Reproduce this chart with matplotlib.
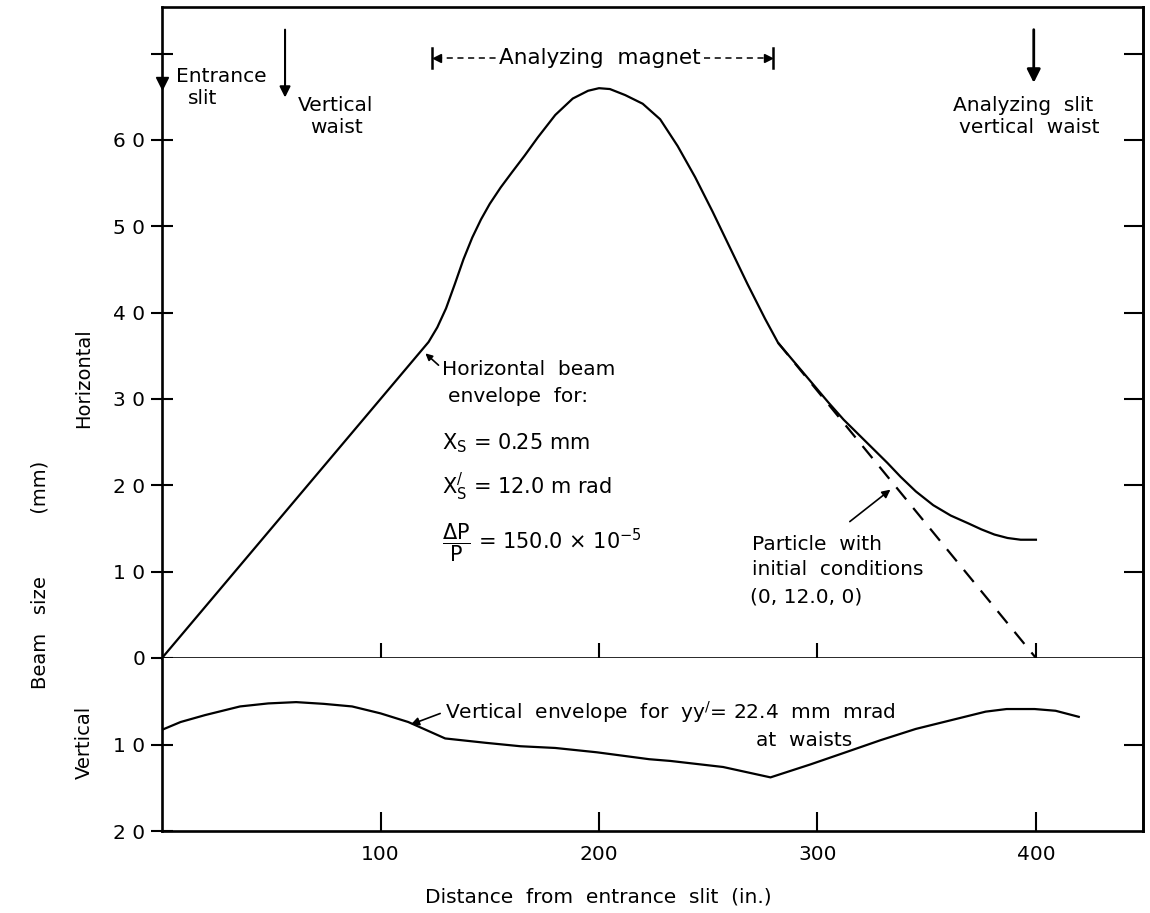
import numpy as np
import matplotlib
matplotlib.use('Agg')
import matplotlib.pyplot as plt

plt.rcParams['font.family'] = ['DejaVu Sans']
plt.rcParams['mathtext.fontset'] = 'dejavusans'
plt.rcParams['mathtext.default'] = 'regular'

# horizontal beam envelope (mm) vs distance from entrance slit (in.)
h_dist = [0, 118, 122, 126, 130, 134, 138, 142, 146, 150, 155, 160, 166, 172, 180, 188,
          195, 200, 205, 212, 220, 228, 236, 244, 252, 260, 268, 276, 282,
          295, 305, 312, 320, 326, 332, 338, 345, 353, 361, 369, 375, 381, 387, 393, 400]
h_size = [0, 35.4, 36.6, 38.3, 40.5, 43.3, 46.2, 48.7, 50.8, 52.6, 54.5, 56.2, 58.2, 60.3, 62.9, 64.8,
          65.7, 66.0, 65.9, 65.2, 64.2, 62.4, 59.3, 55.7, 51.7, 47.5, 43.3, 39.3, 36.5,
          32.6, 29.6, 27.6, 25.6, 24.1, 22.6, 21.0, 19.3, 17.7, 16.5, 15.6, 14.9, 14.3, 13.9, 13.7, 13.7]

# particle trajectory for initial conditions (0, 12.0, 0)
p_dist = [282, 400]
p_size = [36.5, 0]

# vertical beam envelope (mm)
v_dist = [0, 8.5, 19.7, 35.7, 48.6, 61.4, 74, 87, 100, 112.7, 129.6, 148, 164, 180, 199,
          223, 232.7, 256.8, 278.5, 296.8, 312.9, 328.9, 345, 361, 377, 386.6, 399.4, 409, 419.6]
v_size = [8.3, 7.4, 6.6, 5.6, 5.25, 5.1, 5.3, 5.6, 6.4, 7.4, 9.3, 9.8, 10.2, 10.4, 10.9,
          11.7, 11.9, 12.6, 13.8, 12.3, 10.9, 9.5, 8.2, 7.2, 6.2, 5.9, 5.9, 6.1, 6.8]

x_ticks = [100, 200, 300, 400]
h_ticks = [0, 10, 20, 30, 40, 50, 60, 70]
h_labels = ['0', '1 0', '2 0', '3 0', '4 0', '5 0', '6 0', '']
v_ticks = [10, 20]
v_labels = ['1 0', '2 0']

entrance_slit = 0
vertical_waist = 56.3
analyzing_slit = 399
magnet_start, magnet_end = 123.7, 279.5

fig = plt.figure(figsize=(11.5, 9.13), dpi=100)
ax = fig.add_axes([0.1409, 0.2793, 0.8530, 0.7130])
axv = fig.add_axes([0.1409, 0.0898, 0.8530, 0.1895], sharex=ax)

lw = 1.6
for a in (ax, axv):
    for s in a.spines.values():
        s.set_linewidth(1.9)
axv.spines['top'].set_visible(False)

ax.plot(h_dist, h_size, color='black', lw=lw)
ax.plot(p_dist, p_size, color='black', lw=lw, dashes=(7, 5))
axv.plot(v_dist, v_size, color='black', lw=lw)

ax.set_xlim(0, 449)
ax.set_ylim(0, 75.4)
axv.set_ylim(20, 0)

# upper panel ticks
ax.set_xticks(x_ticks)
ax.tick_params(axis='x', direction='inout', length=22, width=1.5, labelbottom=False)
ax.set_yticks(h_ticks)
ax.set_yticklabels(h_labels)
ax.tick_params(axis='y', direction='inout', length=16, width=1.5, labelsize=14.5, pad=4)
sec = ax.secondary_yaxis('right')
sec.set_yticks(h_ticks[1:])
sec.tick_params(direction='in', length=14, width=1.5, labelright=False)
sec.spines['right'].set_linewidth(1.9)

# lower panel ticks
axv.set_xticks(x_ticks)
axv.set_xticklabels([str(t) for t in x_ticks])
axv.tick_params(axis='x', direction='in', length=14, width=1.5, labelsize=14.5, pad=10)
axv.set_yticks(v_ticks)
axv.set_yticklabels(v_labels)
axv.tick_params(axis='y', direction='inout', length=16, width=1.5, labelsize=14.5, pad=4)
secv = axv.secondary_yaxis('right')
secv.set_yticks([10])
secv.tick_params(direction='in', length=14, width=1.5, labelright=False)
secv.spines['right'].set_linewidth(1.9)

fs = 14.5

# entrance slit marker
ax.plot([entrance_slit], [66.6], marker='v', ms=9, color='black', clip_on=False)
ax.text(6.3, 67.3, 'Entrance', fontsize=fs, va='center')
ax.text(12, 64.8, 'slit', fontsize=fs, va='center')

# vertical waist arrow
ax.annotate('', xy=(vertical_waist, 64.6), xytext=(vertical_waist, 73.1),
            arrowprops=dict(arrowstyle='-|>', lw=1.5, color='black', mutation_scale=16))
ax.text(62, 64.0, 'Vertical', fontsize=fs, va='center')
ax.text(68, 61.5, 'waist', fontsize=fs, va='center')

# analyzing slit arrow
ax.annotate('', xy=(analyzing_slit, 66.3), xytext=(analyzing_slit, 73.1),
            arrowprops=dict(arrowstyle='-|>', lw=2.0, color='black', mutation_scale=20))
ax.text(394, 64.0, 'Analyzing  slit', fontsize=fs, va='center', ha='center')
ax.text(397, 61.5, 'vertical  waist', fontsize=fs, va='center', ha='center')

# analyzing magnet span, dashes run from the bars to the label
ym = 69.5
mtxt = ax.text((magnet_start + magnet_end) / 2 - 1, ym, 'Analyzing  magnet', fontsize=fs + 1,
               va='center', ha='center')
fig.canvas.draw()
bb = mtxt.get_window_extent().transformed(ax.transData.inverted())
ax.plot([magnet_start + 1.5, bb.x0 - 1], [ym, ym], color='black', lw=1.1, dashes=(4, 3))
ax.plot([bb.x1 + 1.5, magnet_end - 1.5], [ym, ym], color='black', lw=1.1, dashes=(4, 3))
ax.plot([magnet_start + 2.2], [ym], marker='<', ms=6, color='black')
ax.plot([magnet_end - 2.2], [ym], marker='>', ms=6, color='black')
ax.plot([magnet_start, magnet_start], [ym - 1.2, ym + 1.2], color='black', lw=1.8)
ax.plot([magnet_end, magnet_end], [ym - 1.2, ym + 1.2], color='black', lw=1.8)

# horizontal envelope note
ax.annotate('', xy=(119.6, 35.5), xytext=(127.5, 33.7),
            arrowprops=dict(arrowstyle='-|>', lw=1.2, color='black', mutation_scale=10))
ax.text(128, 33.4, 'Horizontal  beam', fontsize=fs, va='center')
ax.text(131, 30.3, 'envelope  for:', fontsize=fs, va='center')
ax.text(128, 24.9, r'X$_{S}$ = 0.25 mm', fontsize=fs + 0.5, va='center')
ax.text(128, 19.8, r"X$_{S}^{/}$ = 12.0 m rad", fontsize=fs + 0.5, va='center')
ax.text(128, 13.4, r'$\dfrac{\Delta P}{P}$ = 150.0 $\times$ 10$^{-5}$', fontsize=fs + 0.5,
        va='center')

# particle note
ax.annotate('', xy=(334.4, 19.7), xytext=(313.8, 15.6),
            arrowprops=dict(arrowstyle='-|>', lw=1.2, color='black', mutation_scale=12))
ax.text(270, 13.1, 'Particle  with', fontsize=fs, va='center')
ax.text(270, 10.2, 'initial  conditions', fontsize=fs, va='center')
ax.text(269, 7.1, '(0, 12.0, 0)', fontsize=fs, va='center')

# vertical envelope note
axv.annotate('', xy=(112.7, 7.8), xytext=(128.5, 6.3),
             arrowprops=dict(arrowstyle='-|>', lw=1.2, color='black', mutation_scale=12))
axv.text(129.6, 6.3, r'Vertical  envelope  for  yy$^{/}$= 22.4  mm  mrad', fontsize=fs,
         va='center')
axv.text(272, 9.5, 'at  waists', fontsize=fs, va='center')

# axis titles
fig.text(40 / 1150, 1 - 575 / 913, 'Beam   size          (mm)', rotation=90, fontsize=14,
         ha='center', va='center')
fig.text(84 / 1150, 1 - 378 / 913, 'Horizontal', rotation=90, fontsize=14,
         ha='center', va='center')
fig.text(84 / 1150, 1 - 742 / 913, 'Vertical', rotation=90, fontsize=14,
         ha='center', va='center')
fig.text(598 / 1150, 1 - 897 / 913, 'Distance  from  entrance  slit  (in.)', fontsize=14.5,
         ha='center', va='center')

fig.savefig('out.png', dpi=100)
